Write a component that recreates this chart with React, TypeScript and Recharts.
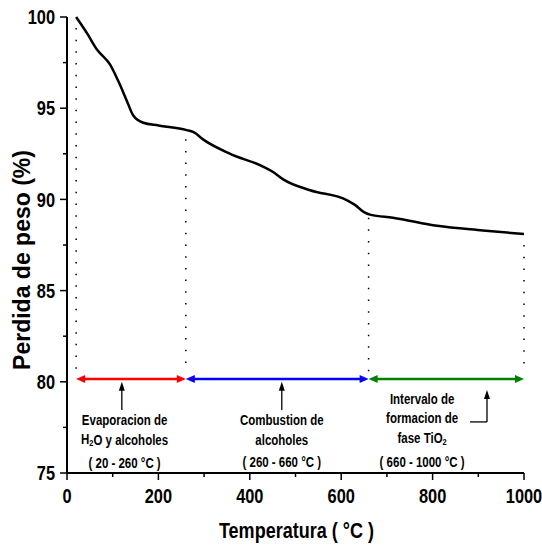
import React from 'react';
import {
  LineChart,
  Line,
  XAxis,
  YAxis,
  ReferenceLine,
  ReferenceDot,
} from 'recharts';

// TGA curve
const temps = [20, 44, 66, 94, 112, 131, 145, 167, 200, 262, 276, 300, 357, 429, 451, 473, 532, 613, 630, 650, 665, 713, 810, 910, 1000];
const weights = [100, 99.1, 98.2, 97.4, 96.5, 95.4, 94.6, 94.2, 94.05, 93.8, 93.7, 93.25, 92.5, 91.8, 91.5, 91.1, 90.5, 89.95, 89.7, 89.3, 89.15, 89.0, 88.55, 88.3, 88.1];

const xTicks = [0, 100, 200, 300, 400, 500, 600, 700, 800, 900, 1000];
const yTicks = [75, 77.5, 80, 82.5, 85, 87.5, 90, 92.5, 95, 97.5, 100];
const xMajor = [0, 200, 400, 600, 800, 1000];
const yMajor = [75, 80, 85, 90, 95, 100];

// interval bounds and where the dotted drop lines start
const bounds = [20, 260, 660, 1000];
const dropTops = [99.4, 93.3, 89.0, 87.5];
const dropBottom = 80.5;
const arrowLevel = 80.15;
const arrowColors = ['#ff0000', '#0000ff', '#008000'];

// annotation pointers: x, from y, to y
const pointers = [
  { x: 120, from: 78.45, to: 80.0 },
  { x: 470, from: 78.45, to: 80.0 },
  { x: 919, from: 77.8, to: 79.55 },
];
const greenElbow = { x1: 882, x2: 919, y: 77.8 };

const noteX = [126, 470, 777];
const noteY = [77.9, 77.9, 79.05];
const noteLines = [
  ['Evaporacion de', 'H|2|O y alcoholes', '( 20 - 260 °C )'],
  ['Combustion de', 'alcoholes', '( 260 - 660 °C )'],
  ['Intervalo de', 'formacion de', 'fase TiO|2|', '( 660 - 1000 °C )'],
];
const noteGaps = [
  [0, 19, 43],
  [0, 20, 42],
  [0, 19, 39, 63],
];

const data = temps.map((t, i) => ({ t, w: weights[i] }));

const sans = '"Liberation Sans", Arial, sans-serif';

// the original text is horizontally squeezed, so squash Liberation Sans
const CText = ({ x, y, size, anchor = 'middle', sx = 0.82, children }: any) => (
  <g transform={`translate(${x},${y}) scale(${sx},1)`}>
    <text x={0} y={0} textAnchor={anchor} dominantBaseline="central" fontFamily={sans} fontWeight="bold" fontSize={size} fill="#000">
      {children}
    </text>
  </g>
);

const BottomTick = (props: any) => {
  const { x, y, payload } = props;
  const major = xMajor.includes(payload.value);
  return (
    <g>
      <line x1={x} y1={y} x2={x} y2={y + (major ? 7 : 4)} stroke="#000" strokeWidth={1.5} />
      {major && <CText x={x} y={y + 23} size={20}>{payload.value}</CText>}
    </g>
  );
};

const LeftTick = (props: any) => {
  const { x, y, payload } = props;
  const major = yMajor.includes(payload.value);
  return (
    <g>
      <line x1={x} y1={y} x2={x - (major ? 7 : 4)} y2={y} stroke="#000" strokeWidth={1.5} />
      {major && <CText x={x - 12} y={y} size={20} anchor="end">{payload.value}</CText>}
    </g>
  );
};

const TopTick = (props: any) => {
  const { x, y } = props;
  return <line x1={x} y1={y} x2={x} y2={y + 2} stroke="#000" strokeWidth={1} />;
};

const RightTick = (props: any) => {
  const { x, y } = props;
  return <line x1={x} y1={y} x2={x - 2} y2={y} stroke="#000" strokeWidth={1} />;
};

const XTitle = (props: any) => {
  const { viewBox } = props;
  return (
    <CText x={viewBox.x + viewBox.width / 2 + 1} y={viewBox.y + 57} size={22}>
      Temperatura ( °C )
    </CText>
  );
};

const YTitle = (props: any) => {
  const { viewBox } = props;
  const cx = viewBox.x + 22;
  const cy = viewBox.y + viewBox.height / 2 + 15;
  return (
    <text x={cx} y={cy} transform={`rotate(-90 ${cx} ${cy})`} textAnchor="middle" dominantBaseline="central" fontFamily={sans} fontWeight="bold" fontSize={23} fill="#000">
      Perdida de peso (%)
    </text>
  );
};

const DoubleArrow = (props: any) => {
  const { x1, y1, x2, y2, stroke } = props;
  const h = 9;
  const w = 4;
  return (
    <g>
      <line x1={x1 + h - 1} y1={y1} x2={x2 - h + 1} y2={y2} stroke={stroke} strokeWidth={2.5} />
      <polygon points={`${x1},${y1} ${x1 + h},${y1 - w} ${x1 + h},${y1 + w}`} fill={stroke} />
      <polygon points={`${x2},${y2} ${x2 - h},${y2 - w} ${x2 - h},${y2 + w}`} fill={stroke} />
    </g>
  );
};

const UpArrow = (props: any) => {
  const { x1, y1, x2, y2 } = props;
  const top = Math.min(y1, y2);
  const bottom = Math.max(y1, y2);
  return (
    <g>
      <line x1={x1} y1={bottom} x2={x2} y2={top + 6} stroke="#000" strokeWidth={1.3} />
      <polygon points={`${x1},${top} ${x1 - 3},${top + 9} ${x1 + 3},${top + 9}`} fill="#000" />
    </g>
  );
};

const renderLine = (line: string) => {
  const parts = line.split('|');
  if (parts.length === 1) return line;
  return (
    <>
      {parts[0]}
      <tspan fontSize={9} dy={4}>{parts[1]}</tspan>
      <tspan dy={-4}>{parts[2]}</tspan>
    </>
  );
};

const makeNote = (idx: number) => (props: any) => {
  const { cx, cy } = props;
  return (
    <g>
      {noteLines[idx].map((ln, j) => (
        <CText key={j} x={cx} y={cy + noteGaps[idx][j]} size={14}>
          {renderLine(ln)}
        </CText>
      ))}
    </g>
  );
};

export default function App() {
  return (
    <div style={{ position: 'absolute', left: 0, top: 0, background: '#fff' }}>
      <LineChart width={542} height={547} data={data} margin={{ top: 17, right: 18, left: 0, bottom: 0 }}>
        <XAxis
          dataKey="t"
          type="number"
          domain={[0, 1000]}
          ticks={xTicks}
          interval={0}
          height={74}
          tickSize={0}
          tickMargin={0}
          tickLine={false}
          axisLine={{ stroke: '#000', strokeWidth: 2 }}
          tick={<BottomTick />}
          label={<XTitle />}
        />
        <XAxis
          xAxisId="top"
          orientation="top"
          type="number"
          domain={[0, 1000]}
          ticks={xTicks}
          interval={0}
          height={0}
          tickSize={0}
          tickMargin={0}
          tickLine={false}
          axisLine={{ stroke: '#000', strokeWidth: 2 }}
          tick={<TopTick />}
        />
        <YAxis
          type="number"
          domain={[75, 100]}
          ticks={yTicks}
          interval={0}
          width={67}
          tickSize={0}
          tickMargin={0}
          tickLine={false}
          axisLine={{ stroke: '#000', strokeWidth: 2 }}
          tick={<LeftTick />}
          label={<YTitle />}
        />
        <YAxis
          yAxisId="right"
          orientation="right"
          type="number"
          domain={[75, 100]}
          ticks={yTicks}
          interval={0}
          width={0}
          tickSize={0}
          tickMargin={0}
          tickLine={false}
          axisLine={{ stroke: '#000', strokeWidth: 2 }}
          tick={<RightTick />}
        />
        {bounds.map((b, i) => (
          <ReferenceLine
            key={'drop' + i}
            segment={[{ x: b, y: dropTops[i] }, { x: b, y: dropBottom }]}
            stroke="#000"
            strokeWidth={1.5}
            strokeDasharray="1.5 10.2"
          />
        ))}
        {arrowColors.map((c, i) => (
          <ReferenceLine
            key={'span' + i}
            segment={[{ x: bounds[i], y: arrowLevel }, { x: bounds[i + 1], y: arrowLevel }]}
            stroke={c}
            shape={DoubleArrow}
          />
        ))}
        {pointers.map((p, i) => (
          <ReferenceLine
            key={'ptr' + i}
            segment={[{ x: p.x, y: p.from }, { x: p.x, y: p.to }]}
            stroke="#000"
            shape={UpArrow}
          />
        ))}
        <ReferenceLine
          segment={[{ x: greenElbow.x1, y: greenElbow.y }, { x: greenElbow.x2, y: greenElbow.y }]}
          stroke="#000"
          strokeWidth={1.3}
        />
        {noteX.map((nx, i) => (
          <ReferenceDot key={'note' + i} x={nx} y={noteY[i]} r={0} shape={makeNote(i)} />
        ))}
        <Line
          type="monotone"
          dataKey="w"
          stroke="#000"
          strokeWidth={2.5}
          dot={false}
          isAnimationActive={false}
        />
      </LineChart>
    </div>
  );
}
